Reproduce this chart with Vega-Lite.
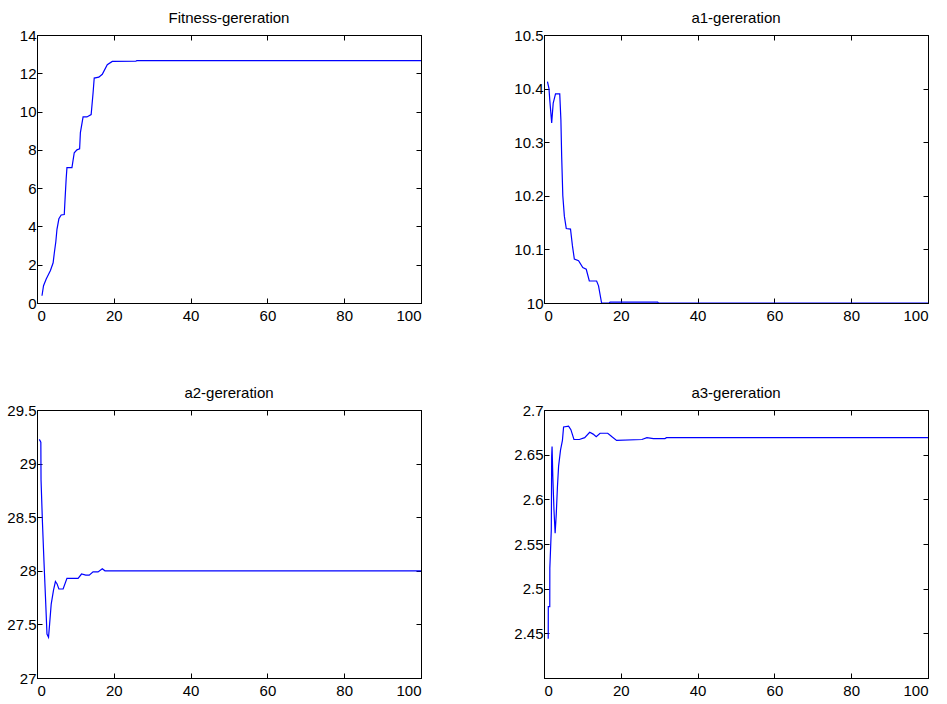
{
  "$schema": "https://vega.github.io/schema/vega-lite/v6.json",
  "background": "white",
  "padding": {"left": 6, "top": 10, "right": 10, "bottom": 5},
  "bounds": "flush",
  "columns": 2,
  "spacing": {"row": 107, "column": 123},
  "config": {
    "view": {"stroke": "#000000", "strokeWidth": 1},
    "font": "Liberation Sans",
    "axis": {
      "grid": false,
      "tickSize": -5,
      "tickColor": "#000000",
      "domainColor": "#000000",
      "labelFont": "Liberation Sans",
      "labelFontSize": 15,
      "labelColor": "#000000",
      "labelPadding": 6,
      "title": null
    },
    "title": {"font": "Liberation Sans", "fontSize": 15, "fontWeight": "normal", "color": "#000000", "baseline": "alphabetic", "offset": 2, "anchor": "middle"}
  },
  "datasets": {
    "fitness": [
      {"gen": 1.3, "value": 0.38}, {"gen": 1.7, "value": 0.9}, {"gen": 2.4, "value": 1.25}, {"gen": 3.5, "value": 1.7},
      {"gen": 4.2, "value": 2.1}, {"gen": 4.5, "value": 2.6}, {"gen": 4.9, "value": 3.2}, {"gen": 5.2, "value": 3.85},
      {"gen": 5.7, "value": 4.4}, {"gen": 6.3, "value": 4.6}, {"gen": 7.1, "value": 4.62}, {"gen": 7.3, "value": 5.4},
      {"gen": 7.6, "value": 6.5}, {"gen": 7.8, "value": 7.07}, {"gen": 9.1, "value": 7.07}, {"gen": 9.7, "value": 7.85},
      {"gen": 10.4, "value": 8.0}, {"gen": 11.1, "value": 8.05}, {"gen": 11.3, "value": 8.9}, {"gen": 12.0, "value": 9.72},
      {"gen": 13.0, "value": 9.72}, {"gen": 14.1, "value": 9.84}, {"gen": 14.6, "value": 10.97}, {"gen": 14.9, "value": 11.75},
      {"gen": 16.1, "value": 11.8}, {"gen": 17.0, "value": 11.95}, {"gen": 18.3, "value": 12.45}, {"gen": 19.6, "value": 12.62},
      {"gen": 25.7, "value": 12.63}, {"gen": 26.0, "value": 12.66}, {"gen": 100, "value": 12.66}
    ],
    "a1": [
      {"gen": 0.9, "value": 10.413}, {"gen": 1.3, "value": 10.4}, {"gen": 1.5, "value": 10.379}, {"gen": 2.0, "value": 10.336},
      {"gen": 2.4, "value": 10.373}, {"gen": 3.0, "value": 10.39}, {"gen": 4.1, "value": 10.39}, {"gen": 4.4, "value": 10.342},
      {"gen": 4.6, "value": 10.274}, {"gen": 4.9, "value": 10.2}, {"gen": 5.3, "value": 10.162}, {"gen": 5.8, "value": 10.139},
      {"gen": 6.9, "value": 10.138}, {"gen": 7.4, "value": 10.107}, {"gen": 7.9, "value": 10.082}, {"gen": 9.0, "value": 10.079},
      {"gen": 10.1, "value": 10.066}, {"gen": 11.0, "value": 10.063}, {"gen": 11.8, "value": 10.041}, {"gen": 13.7, "value": 10.041},
      {"gen": 14.2, "value": 10.032}, {"gen": 15.0, "value": 10.0}, {"gen": 17.0, "value": 10.0}, {"gen": 17.2, "value": 10.0015},
      {"gen": 29.6, "value": 10.0015}, {"gen": 29.8, "value": 10.0}, {"gen": 100, "value": 10.0}
    ],
    "a2": [
      {"gen": 0.6, "value": 29.226}, {"gen": 1.0, "value": 29.2}, {"gen": 1.05, "value": 28.85}, {"gen": 1.4, "value": 28.47},
      {"gen": 1.8, "value": 28.1}, {"gen": 2.2, "value": 27.76}, {"gen": 2.6, "value": 27.41}, {"gen": 3.0, "value": 27.38},
      {"gen": 3.3, "value": 27.51}, {"gen": 3.7, "value": 27.69}, {"gen": 4.3, "value": 27.82}, {"gen": 4.8, "value": 27.9},
      {"gen": 5.2, "value": 27.88}, {"gen": 5.7, "value": 27.83}, {"gen": 6.8, "value": 27.83}, {"gen": 7.8, "value": 27.93},
      {"gen": 10.7, "value": 27.93}, {"gen": 11.6, "value": 27.97}, {"gen": 12.7, "value": 27.96}, {"gen": 13.6, "value": 27.96},
      {"gen": 14.6, "value": 27.99}, {"gen": 15.9, "value": 27.99}, {"gen": 17.0, "value": 28.02}, {"gen": 17.7, "value": 28.0},
      {"gen": 100, "value": 28.0}
    ],
    "a3": [
      {"gen": 1.1, "value": 2.444}, {"gen": 1.12, "value": 2.48}, {"gen": 1.5, "value": 2.48}, {"gen": 1.52, "value": 2.523},
      {"gen": 1.9, "value": 2.566}, {"gen": 2.0, "value": 2.648}, {"gen": 2.1, "value": 2.659}, {"gen": 2.3, "value": 2.625},
      {"gen": 2.6, "value": 2.588}, {"gen": 2.9, "value": 2.562}, {"gen": 3.2, "value": 2.584}, {"gen": 3.5, "value": 2.614},
      {"gen": 3.8, "value": 2.637}, {"gen": 4.3, "value": 2.655}, {"gen": 4.8, "value": 2.666}, {"gen": 5.1, "value": 2.681},
      {"gen": 6.4, "value": 2.682}, {"gen": 7.0, "value": 2.678}, {"gen": 7.8, "value": 2.667}, {"gen": 9.2, "value": 2.667},
      {"gen": 10.6, "value": 2.669}, {"gen": 11.9, "value": 2.675}, {"gen": 12.8, "value": 2.673}, {"gen": 13.6, "value": 2.67},
      {"gen": 14.6, "value": 2.674}, {"gen": 16.6, "value": 2.674}, {"gen": 17.7, "value": 2.67}, {"gen": 18.9, "value": 2.666},
      {"gen": 25.5, "value": 2.667}, {"gen": 26.8, "value": 2.669}, {"gen": 28.5, "value": 2.668}, {"gen": 31.5, "value": 2.668},
      {"gen": 31.9, "value": 2.669}, {"gen": 100, "value": 2.669}
    ]
  },
  "concat": [
    {
      "width": 384, "height": 268,
      "title": "Fitness-gereration",
      "data": {"name": "fitness"},
      "layer": [
        {"mark": {"type": "line", "color": "#0000ff", "strokeWidth": 1.2, "clip": true},
         "encoding": {
           "x": {"field": "gen", "type": "quantitative", "scale": {"domain": [0, 100], "nice": false}, "axis": {"orient": "bottom", "values": [0, 20, 40, 60, 80, 100], "format": "~f", "labelPadding": 10}},
           "y": {"field": "value", "type": "quantitative", "scale": {"domain": [0, 14], "nice": false, "zero": false}, "axis": {"orient": "left", "values": [0, 2, 4, 6, 8, 10, 12, 14], "format": "~f"}}
         }},
        {"mark": {"type": "line", "opacity": 0},
         "encoding": {
           "x": {"field": "gen", "type": "quantitative", "axis": {"orient": "top", "values": [0, 20, 40, 60, 80, 100], "labels": false}},
           "y": {"field": "value", "type": "quantitative", "axis": {"orient": "right", "values": [0, 2, 4, 6, 8, 10, 12, 14], "labels": false}}
         }}
      ],
      "resolve": {"axis": {"x": "independent", "y": "independent"}}
    },
    {
      "width": 384, "height": 268,
      "title": "a1-gereration",
      "data": {"name": "a1"},
      "layer": [
        {"mark": {"type": "line", "color": "#0000ff", "strokeWidth": 1.2, "clip": true},
         "encoding": {
           "x": {"field": "gen", "type": "quantitative", "scale": {"domain": [0, 100], "nice": false}, "axis": {"orient": "bottom", "values": [0, 20, 40, 60, 80, 100], "format": "~f", "labelPadding": 10}},
           "y": {"field": "value", "type": "quantitative", "scale": {"domain": [10, 10.5], "nice": false, "zero": false}, "axis": {"orient": "left", "values": [10, 10.1, 10.2, 10.3, 10.4, 10.5], "format": "~f"}}
         }},
        {"mark": {"type": "line", "opacity": 0},
         "encoding": {
           "x": {"field": "gen", "type": "quantitative", "axis": {"orient": "top", "values": [0, 20, 40, 60, 80, 100], "labels": false}},
           "y": {"field": "value", "type": "quantitative", "axis": {"orient": "right", "values": [10, 10.1, 10.2, 10.3, 10.4, 10.5], "labels": false}}
         }}
      ],
      "resolve": {"axis": {"x": "independent", "y": "independent"}}
    },
    {
      "width": 384, "height": 268,
      "title": "a2-gereration",
      "data": {"name": "a2"},
      "layer": [
        {"mark": {"type": "line", "color": "#0000ff", "strokeWidth": 1.2, "clip": true},
         "encoding": {
           "x": {"field": "gen", "type": "quantitative", "scale": {"domain": [0, 100], "nice": false}, "axis": {"orient": "bottom", "values": [0, 20, 40, 60, 80, 100], "format": "~f", "labelPadding": 10}},
           "y": {"field": "value", "type": "quantitative", "scale": {"domain": [27, 29.5], "nice": false, "zero": false}, "axis": {"orient": "left", "values": [27, 27.5, 28, 28.5, 29, 29.5], "format": "~f"}}
         }},
        {"mark": {"type": "line", "opacity": 0},
         "encoding": {
           "x": {"field": "gen", "type": "quantitative", "axis": {"orient": "top", "values": [0, 20, 40, 60, 80, 100], "labels": false}},
           "y": {"field": "value", "type": "quantitative", "axis": {"orient": "right", "values": [27, 27.5, 28, 28.5, 29, 29.5], "labels": false}}
         }}
      ],
      "resolve": {"axis": {"x": "independent", "y": "independent"}}
    },
    {
      "width": 384, "height": 268,
      "title": "a3-gereration",
      "data": {"name": "a3"},
      "layer": [
        {"mark": {"type": "line", "color": "#0000ff", "strokeWidth": 1.2, "clip": true},
         "encoding": {
           "x": {"field": "gen", "type": "quantitative", "scale": {"domain": [0, 100], "nice": false}, "axis": {"orient": "bottom", "values": [0, 20, 40, 60, 80, 100], "format": "~f", "labelPadding": 10}},
           "y": {"field": "value", "type": "quantitative", "scale": {"domain": [2.4, 2.7], "nice": false, "zero": false}, "axis": {"orient": "left", "values": [2.45, 2.5, 2.55, 2.6, 2.65, 2.7], "format": "~f"}}
         }},
        {"mark": {"type": "line", "opacity": 0},
         "encoding": {
           "x": {"field": "gen", "type": "quantitative", "axis": {"orient": "top", "values": [0, 20, 40, 60, 80, 100], "labels": false}},
           "y": {"field": "value", "type": "quantitative", "axis": {"orient": "right", "values": [2.45, 2.5, 2.55, 2.6, 2.65, 2.7], "labels": false}}
         }}
      ],
      "resolve": {"axis": {"x": "independent", "y": "independent"}}
    }
  ]
}
